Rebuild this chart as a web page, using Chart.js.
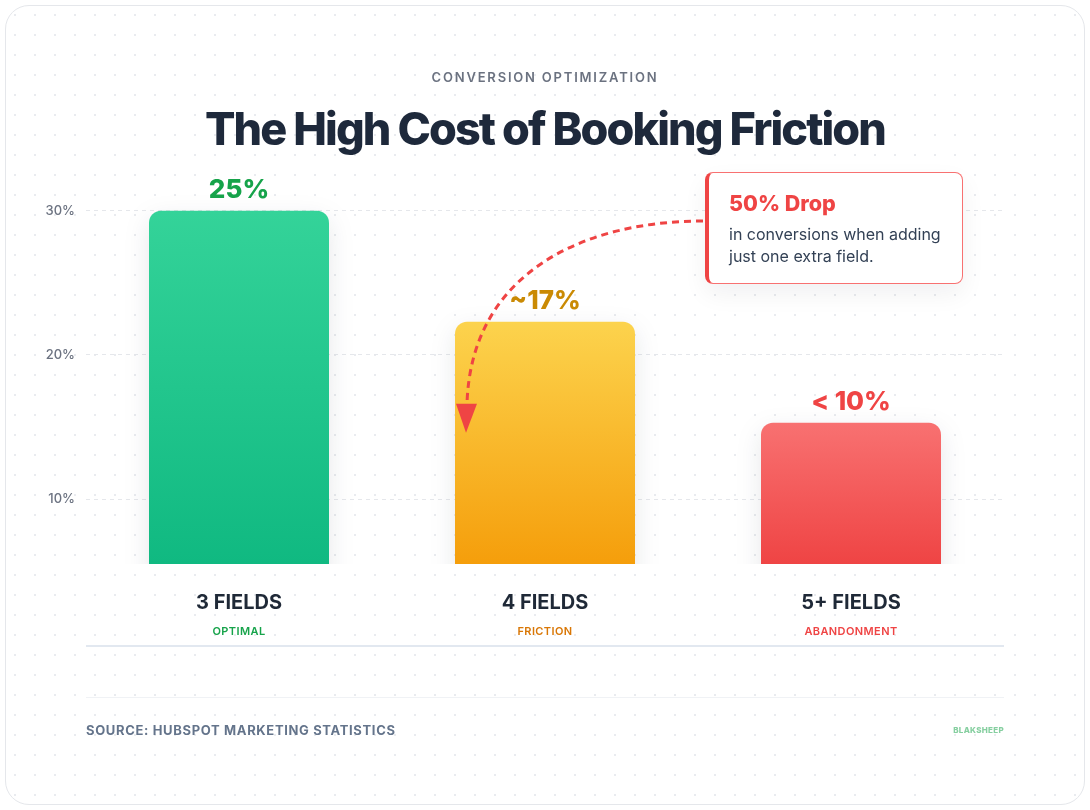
<!DOCTYPE html>
<html>
<head>
<meta charset="utf-8">
<script src="https://cdn.jsdelivr.net/npm/chart.js@4.4.1/dist/chart.umd.min.js"></script>
<style>
  html, body { margin:0; padding:0; background:#ffffff; }
  body { width:1090px; height:810px; position:relative; overflow:hidden; font-family:'Inter', 'Noto Sans', sans-serif; }
  #card { position:absolute; left:5px; top:5px; width:1078px; height:798px; border:1px solid #e5e7eb; border-radius:24px;
    background-color:#ffffff;
    background-image: radial-gradient(circle, #e9ebef 1.1px, rgba(255,255,255,0) 1.4px);
    background-size:20px 20px; background-position:-1px -1px; }
  #chartWrap { position:absolute; left:0; top:0; width:1090px; height:810px; }
  .eyebrow { position:absolute; left:0; width:1090px; top:69px; text-align:center; font-size:13px; line-height:16px; font-weight:600; letter-spacing:1.8px; color:#6b7280; }
  .title { position:absolute; left:0; width:1090px; top:102px; text-align:center; font-size:45px; line-height:54px; font-weight:800; letter-spacing:-1.9px; color:#1e293b; }
  #note { position:absolute; left:705px; top:172px; width:253px; height:110px; background:#ffffff; border:1px solid #f87171; border-left:4px solid #ef4444; border-radius:8px; box-shadow:0 10px 25px rgba(15,23,42,0.06); }
  #note .h { position:absolute; left:20px; top:17px; font-size:21.5px; line-height:26px; font-weight:800; color:#ef4444; }
  #note .b { position:absolute; left:20px; top:50px; font-size:16px; line-height:22px; font-weight:400; color:#334155; }
  .divider { position:absolute; left:86px; width:918px; top:697px; height:1px; background:#f0f2f5; }
  .source { position:absolute; left:86px; top:722px; font-size:13px; line-height:16px; font-weight:700; letter-spacing:0.65px; color:#64748b; }
  .logo { position:absolute; left:953px; width:51px; top:725px; font-size:8px; line-height:10px; font-weight:800; letter-spacing:0.3px; color:#86cfa0; text-align:right; }
</style>
</head>
<body>
<div id="card"></div>
<div id="chartWrap"><canvas id="c"></canvas></div>
<div class="eyebrow">CONVERSION OPTIMIZATION</div>
<div class="title">The High Cost of Booking Friction</div>
<div id="note"><div class="h">50% Drop</div><div class="b">in conversions when adding<br>just one extra field.</div></div>
<div class="divider"></div>
<div class="source">SOURCE: HUBSPOT MARKETING STATISTICS</div>
<div class="logo">BLAKSHEEP</div>
<script>
// ---- data ----
const categories = ['3 FIELDS', '4 FIELDS', '5+ FIELDS'];
const subLabels = ['OPTIMAL', 'FRICTION', 'ABANDONMENT'];
const barHeights = [30, 22.3, 15.3];
const valueLabels = ['25%', '~17%', '< 10%'];
const yTicks = [10, 20, 30];

// ---- styles ----
const topColors = ['#34d399', '#fcd34d', '#f87171'];
const bottomColors = ['#10b981', '#f59e0b', '#ef4444'];
const valueColors = ['#16a34a', '#ca8a04', '#ef4444'];
const subColors = ['#16a34a', '#d97706', '#ef4444'];

const shadowPlugin = {
  id: 'barShadow',
  beforeDatasetsDraw(chart) {
    const c = chart.ctx; c.save();
    c.shadowColor = 'rgba(15,23,42,0.10)'; c.shadowBlur = 24; c.shadowOffsetY = 8;
  },
  afterDatasetsDraw(chart) { chart.ctx.restore(); }
};

const labelsPlugin = {
  id: 'labels',
  afterDatasetsDraw(chart) {
    const c = chart.ctx;
    const meta = chart.getDatasetMeta(0);
    const xs = chart.scales.x;
    const area = chart.chartArea;
    c.save();
    c.textAlign = 'center'; c.textBaseline = 'middle';
    meta.data.forEach((bar, i) => {
      c.font = '800 26px Inter';
      c.fillStyle = valueColors[i];
      c.fillText(valueLabels[i], bar.x, bar.y - 21);
      c.font = '600 11px Inter';
      c.fillStyle = subColors[i];
      if ('letterSpacing' in c) c.letterSpacing = '0.4px';
      c.fillText(subLabels[i], xs.getPixelForValue(i), area.bottom + 68);
      if ('letterSpacing' in c) c.letterSpacing = '0px';
    });
    // baseline rule under the labels
    c.fillStyle = '#e2e8f0';
    c.fillRect(area.left, area.bottom + 81, area.right - area.left, 2);

    // annotation arrow from the note box to the "4 FIELDS" bar
    const b1 = meta.data[1];
    const left1 = b1.x - b1.width / 2;
    const tipX = left1 + 11;
    const tipY = b1.y + 111;
    const sx = 703, sy = 221;
    c.strokeStyle = '#ef4444'; c.lineWidth = 3; c.setLineDash([7, 5]);
    c.beginPath();
    c.moveTo(sx, sy);
    c.bezierCurveTo(585, sy, tipX + 5, 272, tipX + 1, tipY - 29);
    c.stroke();
    c.setLineDash([]);
    c.fillStyle = '#ef4444';
    c.beginPath();
    c.moveTo(tipX - 10, tipY - 29);
    c.lineTo(tipX + 11, tipY - 29);
    c.lineTo(tipX, tipY);
    c.closePath(); c.fill();
    c.restore();
  }
};

new Chart(document.getElementById('c'), {
  type: 'bar',
  data: {
    labels: categories,
    datasets: [{
      data: barHeights,
      backgroundColor: (ctx) => {
        const chart = ctx.chart; const area = chart.chartArea; const i = ctx.dataIndex;
        if (!area || ctx.raw == null) return topColors[i] || '#ccc';
        const y0 = chart.scales.y.getPixelForValue(ctx.raw);
        const g = chart.ctx.createLinearGradient(0, y0, 0, area.bottom);
        g.addColorStop(0, topColors[i]); g.addColorStop(1, bottomColors[i]);
        return g;
      },
      borderRadius: { topLeft: 12, topRight: 12, bottomLeft: 0, bottomRight: 0 },
      borderSkipped: 'bottom',
      borderWidth: 0,
      categoryPercentage: 1,
      barPercentage: 180 / 306
    }]
  },
  options: {
    responsive: true,
    maintainAspectRatio: false,
    animation: false,
    devicePixelRatio: 1,
    layout: { padding: { left: 0, right: 86, top: 182, bottom: 166 } },
    plugins: { legend: { display: false }, tooltip: { enabled: false }, title: { display: false } },
    scales: {
      x: {
        grid: { display: false, drawTicks: false },
        border: { display: false },
        ticks: { color: '#1f2937', font: { family: 'Inter', size: 20, weight: '700' }, padding: 27, maxRotation: 0 },
        afterFit: (a) => { a.height = 80; }
      },
      y: {
        min: 5.5, max: 32,
        afterBuildTicks: (a) => { a.ticks = yTicks.map(v => ({ value: v })); },
        afterFit: (a) => { a.width = 86; },
        grid: { color: '#e5e7eb', lineWidth: 1, drawTicks: false },
        border: { display: false, dash: [4, 4] },
        ticks: { color: '#6b7280', font: { family: 'Inter', size: 13, weight: '500' }, padding: 11, callback: (v) => v + '%' }
      }
    }
  },
  plugins: [shadowPlugin, labelsPlugin]
});
</script>
</body>
</html>
